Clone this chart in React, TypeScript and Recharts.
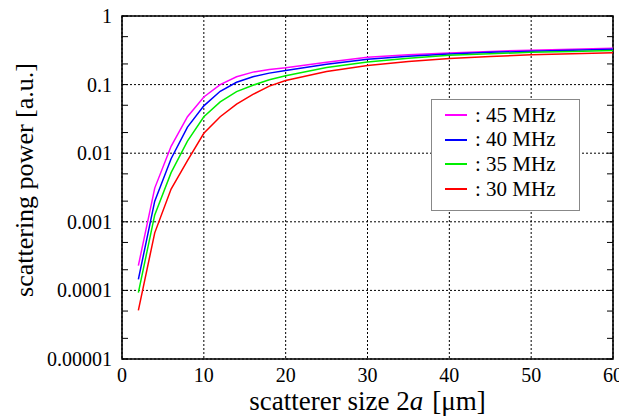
import { CartesianGrid, Legend, Line, LineChart, ReferenceArea, XAxis, YAxis } from "recharts"

const sizes = [2, 4, 6, 8, 10, 12, 14, 16, 18, 20, 25, 30, 35, 40, 45, 50, 55, 60]
const p45 = [2.3e-4, 3.1e-3, 0.0126, 0.034, 0.066, 0.1, 0.13, 0.152, 0.166, 0.176, 0.212, 0.25, 0.272, 0.29, 0.305, 0.318, 0.328, 0.338]
const p40 = [1.45e-4, 2.0e-3, 8.3e-3, 0.024, 0.049, 0.08, 0.108, 0.13, 0.147, 0.16, 0.198, 0.235, 0.26, 0.28, 0.295, 0.306, 0.317, 0.327]
const p35 = [9.3e-5, 1.26e-3, 5.2e-3, 0.015, 0.034, 0.056, 0.079, 0.098, 0.118, 0.135, 0.178, 0.214, 0.243, 0.267, 0.282, 0.295, 0.305, 0.313]
const p30 = [5.1e-5, 6.9e-4, 3.0e-3, 7.8e-3, 0.0195, 0.034, 0.052, 0.072, 0.095, 0.115, 0.155, 0.19, 0.218, 0.24, 0.257, 0.272, 0.282, 0.292]

const xTicks = [0, 10, 20, 30, 40, 50, 60]
const yMajors = [1e-5, 1e-4, 1e-3, 1e-2, 0.1, 1]
const yLabels = ["0.00001", "0.0001", "0.001", "0.01", "0.1", "1"]
const yMinors = [2e-5, 5e-5, 2e-4, 5e-4, 2e-3, 5e-3, 0.02, 0.05, 0.2, 0.5]

const series = [
  { key: "f45", name: ": 45 MHz", color: "#ff00ff" },
  { key: "f40", name: ": 40 MHz", color: "#0000ff" },
  { key: "f35", name: ": 35 MHz", color: "#00ee00" },
  { key: "f30", name: ": 30 MHz", color: "#ff0000" },
]

const data = sizes.map((x, i) => ({ x, f45: p45[i], f40: p40[i], f35: p35[i], f30: p30[i] }))
const yTicks = [...yMajors, ...yMinors].sort((a, b) => a - b)

const font = "Liberation Serif, DejaVu Serif, serif"

function LeftTick(props: any) {
  const { x, y, payload } = props
  const i = yMajors.indexOf(payload.value)
  return (
    <g>
      <line x1={x + 10} x2={x + 16} y1={y} y2={y} stroke="#000" strokeWidth={1} />
      {i >= 0 && (
        <text x={x} y={y} dy="0.35em" textAnchor="end" fontSize={20} fontFamily={font} fill="#000">
          {yLabels[i]}
        </text>
      )}
    </g>
  )
}

function RightTick(props: any) {
  const { x, y } = props
  return <line x1={x - 6} x2={x} y1={y} y2={y} stroke="#000" strokeWidth={1} />
}

function LegendBox() {
  return (
    <div
      style={{
        boxSizing: "border-box",
        width: 149,
        height: 112,
        border: "1px solid #888",
        background: "#fff",
        padding: "3px 0 0 13px",
        fontFamily: font,
        fontSize: 21,
        color: "#000",
      }}
    >
      {series.map((s) => (
        <div key={s.key} style={{ display: "flex", alignItems: "center", height: 24.6 }}>
          <span style={{ display: "inline-block", width: 22, height: 2, background: s.color, marginRight: 8 }} />
          <span>{s.name}</span>
        </div>
      ))}
    </div>
  )
}

export default function App() {
  return (
    <LineChart width={619} height={412} data={data} margin={{ top: 8, right: 13, bottom: 0, left: 0 }}>
      <CartesianGrid stroke="#000" strokeDasharray="2 2" horizontalValues={yMajors} />
      <XAxis
        type="number"
        dataKey="x"
        domain={[0, 60]}
        ticks={xTicks}
        axisLine={false}
        tickLine={false}
        tickSize={0}
        tickMargin={9}
        height={61}
        tick={{ fontSize: 20, fill: "#000", fontFamily: font }}
        label={{
          content: (p: any) => (
            <text
              x={p.viewBox.x + p.viewBox.width / 2}
              y={402}
              textAnchor="middle"
              fontSize={27}
              fontFamily={font}
              fill="#000"
            >
              scatterer size 2<tspan fontStyle="italic">a</tspan>
              <tspan dx={9}>[μm]</tspan>
            </text>
          ),
        }}
      />
      <YAxis
        scale="log"
        domain={[1e-5, 1]}
        allowDataOverflow
        ticks={yTicks}
        interval={0}
        axisLine={false}
        tickLine={false}
        tickSize={0}
        tickMargin={10}
        width={114}
        tick={<LeftTick />}
        label={{
          content: () => (
            <text
              x={25}
              y={172}
              transform="rotate(-90, 25, 172)"
              textAnchor="middle"
              fontSize={26}
              fontFamily={font}
              fill="#000"
            >
              scattering power [a.u.]
            </text>
          ),
        }}
      />
      <YAxis
        yAxisId="r"
        orientation="right"
        scale="log"
        domain={[1e-5, 1]}
        allowDataOverflow
        ticks={yTicks}
        interval={0}
        axisLine={false}
        tickLine={false}
        tickSize={0}
        tickMargin={0}
        width={1}
        tick={<RightTick />}
      />
      <ReferenceArea x1={0} x2={60} y1={1e-5} y2={1} fill="none" stroke="#000" strokeWidth={1.6} ifOverflow="visible" />
      {series.map((s) => (
        <Line
          key={s.key}
          type="linear"
          dataKey={s.key}
          name={s.name}
          stroke={s.color}
          strokeWidth={1.5}
          dot={false}
          isAnimationActive={false}
        />
      ))}
      <Legend
        layout="vertical"
        align="center"
        verticalAlign="middle"
        content={() => <LegendBox />}
        wrapperStyle={{ left: 423, top: 91, width: 149, height: 112 }}
      />
    </LineChart>
  )
}
